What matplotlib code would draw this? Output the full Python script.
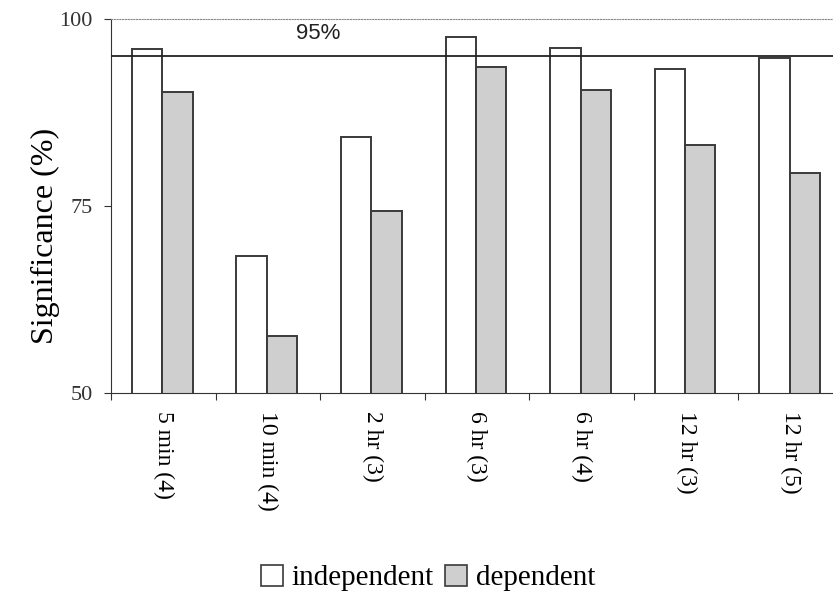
import matplotlib
matplotlib.use("Agg")
import matplotlib.pyplot as plt
import numpy as np
from matplotlib.patches import Patch

# values
categories = ["5 min (4)", "10 min (4)", "2 hr (3)", "6 hr (3)",
              "6 hr (4)", "12 hr (3)", "12 hr (5)"]
independent = [96.0, 68.3, 84.2, 97.6, 96.1, 93.3, 94.8]
dependent = [90.2, 57.6, 74.3, 93.6, 90.5, 83.2, 79.4]
threshold = 95
yticks = [50, 75, 100]

serif = "Liberation Serif"
edge = "#3a3a3a"
fill_dep = "#cfcfcf"

fig = plt.figure(figsize=(8.33, 6.04), dpi=100)
# axes runs slightly past the right edge, as in the scan
ax = fig.add_axes([111/833, 211/604, 732/833, 374/604])

x = np.arange(len(categories))
w = 0.29
ax.bar(x - w/2 - 0.01, independent, w, bottom=0, color="white",
       edgecolor=edge, linewidth=1.4, zorder=2)
ax.bar(x + w/2 - 0.01, dependent, w, bottom=0, color=fill_dep,
       edgecolor=edge, linewidth=1.4, zorder=2)

ax.axhline(threshold, color="#222222", linewidth=1.3, zorder=3)
ax.text(1.48, 98.1, "95%", ha="center", va="center",
        fontsize=16, family="Liberation Sans", color="#222222")

ax.set_ylim(50, 100)
ax.set_xlim(-0.5, len(categories) - 0.5)

ax.set_yticks(yticks)
ax.set_yticklabels([str(v) for v in yticks], fontsize=16, family=serif)
ax.tick_params(axis="y", direction="out", length=5, width=0.8,
               colors="#333333", pad=8)

# ticks sit between the groups, labels at the group centres
ax.set_xticks(np.arange(len(categories) + 1) - 0.5)
ax.set_xticklabels([])
ax.tick_params(axis="x", which="major", direction="out", length=5,
               width=0.8, colors="#333333")
ax.set_xticks(x, minor=True)
ax.set_xticklabels(categories, minor=True, rotation=270, fontsize=17,
                   family=serif, va="top", ha="center")
ax.tick_params(axis="x", which="minor", length=0, pad=13)

ax.spines["left"].set_color("#333333")
ax.spines["bottom"].set_color("#333333")
ax.spines["top"].set_color("#888888")
ax.spines["top"].set_linestyle((0, (1, 1.5)))
ax.spines["right"].set_visible(False)

ax.set_ylabel("Significance (%)", fontsize=23, family=serif,
              va="center")
ax.yaxis.set_label_coords(-0.09, 0.42)

handles = [Patch(facecolor="white", edgecolor=edge, linewidth=1.2),
           Patch(facecolor=fill_dep, edgecolor=edge, linewidth=1.2)]
fig.legend(handles, ["independent", "dependent"], loc="center",
           bbox_to_anchor=(428/833, 1 - 578/604), ncol=2, frameon=False,
           prop={"family": serif, "size": 21}, handlelength=0.75,
           handleheight=0.75, handletextpad=0.3, columnspacing=0.4)

fig.savefig("out.png", dpi=100)
